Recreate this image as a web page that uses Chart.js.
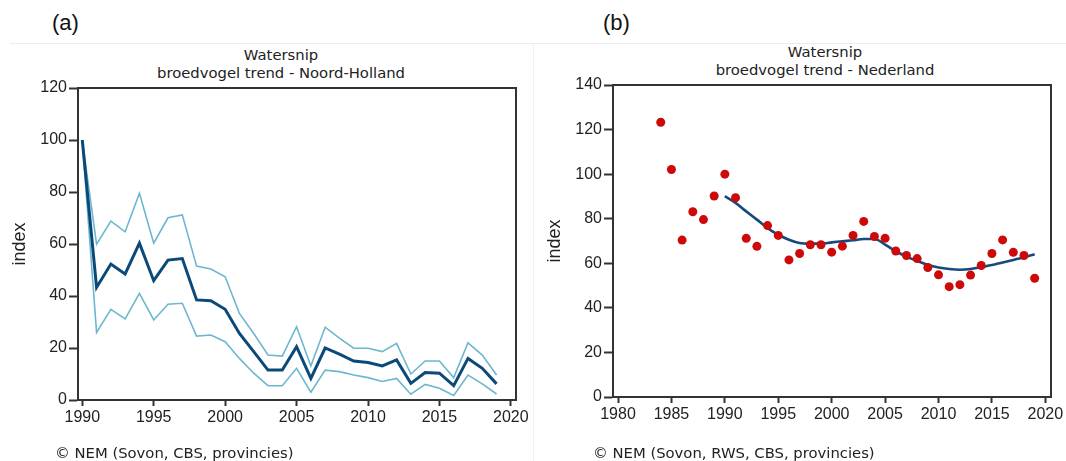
<!DOCTYPE html>
<html>
<head>
<meta charset="utf-8">
<script src="https://cdn.jsdelivr.net/npm/chart.js@4.4.1/dist/chart.umd.min.js"></script>
<style>
  body { margin: 0; background: #fff; width: 1066px; height: 461px; position: relative; overflow: hidden;
         font-family: "DejaVu Sans", Verdana, sans-serif; color: #222; }
  canvas { position: absolute; top: 0; }
  #chartA { left: 0; }
  #chartB { left: 540px; }
  .lab { position: absolute; top: 10px; font: 22px "Liberation Sans", Arial, sans-serif; color: #111; }
  .ttl { position: absolute; width: 340px; font-size: 14.8px; line-height: 18px; text-align: center; color: #222; }
  .foot { position: absolute; top: 444px; font-size: 14.8px; line-height: 17px; color: #222; }
  .rule-h { position: absolute; left: 10px; right: 0; top: 43px; border-top: 1px solid #ececec; }
  .rule-v { position: absolute; left: 533px; top: 43px; bottom: 0; border-left: 1px solid #f0f0f0; }
</style>
</head>
<body>
<div class="rule-h"></div>
<div class="rule-v"></div>
<div class="lab" style="left:52px">(a)</div>
<div class="lab" style="left:603px">(b)</div>
<div class="ttl" style="left:111px;top:46px">Watersnip<br>broedvogel trend - Noord-Holland</div>
<div class="ttl" style="left:655px;top:43px">Watersnip<br>broedvogel trend - Nederland</div>
<canvas id="chartA" width="540" height="461"></canvas>
<canvas id="chartB" width="526" height="461"></canvas>
<div class="foot" style="left:55px">© NEM (Sovon, CBS, provincies)</div>
<div class="foot" style="left:593px">© NEM (Sovon, RWS, CBS, provincies)</div>
<script>
// (a) Noord-Holland: index with upper/lower band
const yearsA = [1990, 1991, 1992, 1993, 1994, 1995, 1996, 1997, 1998, 1999,
                2000, 2001, 2002, 2003, 2004, 2005, 2006, 2007, 2008, 2009,
                2010, 2011, 2012, 2013, 2014, 2015, 2016, 2017, 2018, 2019];
const indexA = [100, 43.3, 52.3, 48.5, 60.3, 45.9, 53.8, 54.4, 38.5, 38.2,
                34.9, 25.6, 18.6, 11.5, 11.5, 20.5, 8.3, 20, 17.6, 15,
                14.4, 13.1, 15.4, 6.4, 10.6, 10.3, 5.5, 16, 12.2, 6.2];
const upperA = [100, 59.9, 68.8, 64.7, 79.5, 60.3, 70.1, 71.2, 51.5, 50.4,
                47.4, 33.3, 25.6, 17.3, 16.9, 28.2, 13.1, 28, 23.8, 19.9,
                19.9, 18.6, 21.8, 10, 15, 15, 8.6, 22, 17.3, 9.6];
const lowerA = [100, 26, 34.9, 31.2, 41, 30.8, 36.8, 37.2, 24.6, 25,
                22.4, 16, 10.3, 5.5, 5.5, 12.2, 3, 11.5, 10.9, 9.6,
                8.6, 7.1, 8.3, 2.2, 6, 4.5, 1.7, 9.6, 6.2, 2.3];
const xTicksA = [1990, 1995, 2000, 2005, 2010, 2015, 2020];
const yTicksA = [0, 20, 40, 60, 80, 100, 120];

// (b) Nederland: yearly index points and smoothed trend
const yearsB = [1984, 1985, 1986, 1987, 1988, 1989, 1990, 1991, 1992, 1993,
                1994, 1995, 1996, 1997, 1998, 1999, 2000, 2001, 2002, 2003,
                2004, 2005, 2006, 2007, 2008, 2009, 2010, 2011, 2012, 2013,
                2014, 2015, 2016, 2017, 2018, 2019];
const pointsB = [123.3, 102.1, 70.4, 83.1, 79.6, 90.2, 100, 89.4, 71.2, 67.6,
                 76.9, 72.5, 61.5, 64.4, 68.3, 68.3, 65, 67.7, 72.5, 78.8,
                 72, 71.2, 65.5, 63.5, 62.1, 58.1, 54.8, 49.5, 50.4, 54.7,
                 59, 64.4, 70.5, 64.9, 63.5, 53.3];
const trendYearsB = yearsA;
const trendB = [90.1, 87.1, 83.3, 79.6, 75.8, 72.8, 70.6, 69.1, 68.8, 68.8,
                69.4, 69.9, 70.3, 70.9, 70.9, 68.4, 65.4, 63, 61.1, 59.3,
                58.1, 57.4, 57.1, 57.4, 58.3, 59.2, 60.4, 61.5, 62.7, 64.1];
const xTicksB = [1980, 1985, 1990, 1995, 2000, 2005, 2010, 2015, 2020];
const yTicksB = [0, 20, 40, 60, 80, 100, 120, 140];

const toXY = (xs, ys) => xs.map((x, i) => ({ x: x, y: ys[i] }));

const frame = {
  id: 'frame',
  afterDatasetsDraw(chart) {
    const { ctx, chartArea: a } = chart;
    ctx.save();
    ctx.strokeStyle = '#333';
    ctx.lineWidth = 2;
    ctx.strokeRect(a.left, a.top, a.right - a.left, a.bottom - a.top);
    ctx.restore();
  }
};

const tickFont = { family: '"Liberation Sans", Arial, sans-serif', size: 16 };

function axes(xr, yr, xTicks, yTicks, yWidth, xHeight, titlePad) {
  return {
    x: {
      type: 'linear', min: xr[0], max: xr[1], bounds: 'data',
      afterBuildTicks: s => { s.ticks = xTicks.map(v => ({ value: v })); },
      afterFit: s => { s.height = xHeight; },
      grid: { drawOnChartArea: false, tickLength: 6, tickColor: '#333', tickWidth: 2 },
      border: { color: '#333', width: 2 },
      ticks: { color: '#222', font: tickFont, padding: 2, maxRotation: 0, autoSkip: false,
               callback: v => String(v) }
    },
    y: {
      min: yr[0], max: yr[1], bounds: 'data',
      afterBuildTicks: s => { s.ticks = yTicks.map(v => ({ value: v })); },
      afterFit: s => { s.width = yWidth; },
      grid: { drawOnChartArea: false, tickLength: 9, tickColor: '#333', tickWidth: 2 },
      border: { color: '#333', width: 2 },
      ticks: { color: '#222', font: tickFont, padding: 2, autoSkip: false },
      title: { display: true, text: 'index', color: '#222',
               font: { family: '"Liberation Sans", Arial, sans-serif', size: 18 },
               padding: { top: titlePad, bottom: 0 } }
    }
  };
}

new Chart(document.getElementById('chartA'), {
  type: 'line',
  data: {
    datasets: [
      { data: toXY(yearsA, indexA), borderColor: '#0b4a78', borderWidth: 3, pointRadius: 0, tension: 0 },
      { data: toXY(yearsA, upperA), borderColor: '#6cb7cf', borderWidth: 1.6, pointRadius: 0, tension: 0 },
      { data: toXY(yearsA, lowerA), borderColor: '#6cb7cf', borderWidth: 1.6, pointRadius: 0, tension: 0 }
    ]
  },
  options: {
    responsive: false,
    animation: false,
    layout: { padding: { left: 0, top: 88, right: 24, bottom: 0 } },
    plugins: { legend: { display: false }, tooltip: { enabled: false } },
    scales: axes([1989.7, 2020.36], [0, 120], xTicksA, yTicksA, 78, 61, 9)
  },
  plugins: [frame]
});

new Chart(document.getElementById('chartB'), {
  type: 'line',
  data: {
    datasets: [
      { data: toXY(yearsB, pointsB), showLine: false, pointRadius: 4.5, pointBorderWidth: 0,
        pointBackgroundColor: '#cc0a0a', borderColor: '#cc0a0a', order: 0 },
      { data: toXY(trendYearsB, trendB), borderColor: '#174a7c', borderWidth: 2.6, pointRadius: 0,
        cubicInterpolationMode: 'monotone', order: 1 }
    ]
  },
  options: {
    responsive: false,
    animation: false,
    layout: { padding: { left: 0, top: 85, right: 15, bottom: 0 } },
    plugins: { legend: { display: false }, tooltip: { enabled: false } },
    scales: axes([1979.53, 2020.53], [0, 140], xTicksB, yTicksB, 73, 64, 4)
  },
  plugins: [frame]
});
</script>
</body>
</html>
